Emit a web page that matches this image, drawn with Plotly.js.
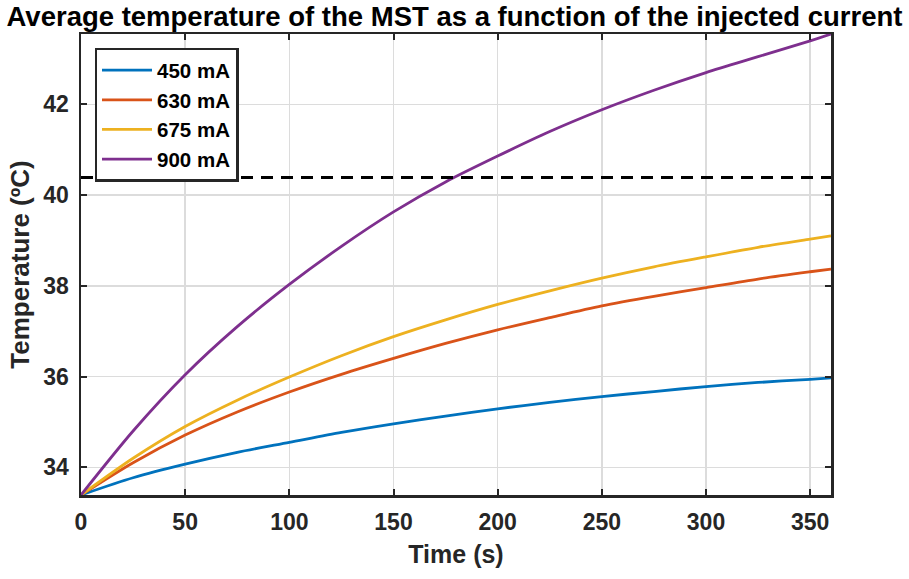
<!DOCTYPE html>
<html>
<head>
<meta charset="utf-8">
<script src="https://cdn.plot.ly/plotly-3.0.1.min.js"></script>
<style>html,body{margin:0;padding:0;background:#fff;}#chart{width:909px;height:579px;}</style>
</head>
<body>
<div id="chart"></div>
<script>
const time = [0, 25, 50, 75, 100, 125, 150, 175, 200, 225, 250, 275, 300, 325, 350, 360];
const seriesNames = ['450 mA', '630 mA', '675 mA', '900 mA'];
const temp450 = [33.39, 33.77, 34.07, 34.33, 34.55, 34.77, 34.96, 35.13, 35.29, 35.43, 35.56, 35.67, 35.78, 35.87, 35.94, 35.97];
const temp630 = [33.39, 34.10, 34.71, 35.22, 35.66, 36.05, 36.40, 36.73, 37.03, 37.30, 37.56, 37.77, 37.96, 38.15, 38.31, 38.37];
const temp675 = [33.39, 34.20, 34.90, 35.48, 35.99, 36.46, 36.88, 37.25, 37.59, 37.89, 38.17, 38.42, 38.64, 38.85, 39.03, 39.10];
const temp900 = [33.39, 34.80, 36.04, 37.10, 38.03, 38.87, 39.63, 40.29, 40.86, 41.40, 41.88, 42.31, 42.70, 43.05, 43.40, 43.55];
const thresholdX = [0, 360];
const thresholdY = [40.39, 40.39];
const xTicks = [0, 50, 100, 150, 200, 250, 300, 350];
const yTicks = [34, 36, 38, 40, 42];

const colors = ['#0072BD', '#D95319', '#EDB120', '#7E2F8E'];
const allSeries = [temp450, temp630, temp675, temp900];
const FONT = 'Liberation Sans, Arial, sans-serif';

const traces = allSeries.map((ys, i) => ({
  x: time, y: ys, name: seriesNames[i], type: 'scatter', mode: 'lines',
  line: {color: colors[i], width: 2.8, shape: 'spline', smoothing: 0.8}
}));
traces.push({
  x: thresholdX, y: thresholdY, type: 'scatter', mode: 'lines', showlegend: false,
  line: {color: '#000000', width: 3, dash: '12px,8px'}, hoverinfo: 'skip'
});

const axisCommon = {
  showline: true, linecolor: '#262626', linewidth: 2.5, mirror: 'ticks',
  ticks: 'inside', ticklen: 6, tickwidth: 2, tickcolor: '#262626',
  showgrid: true, gridcolor: '#dcdcdc', gridwidth: 1.5, zeroline: false,
  tickfont: {family: FONT, size: 23, color: '#262626', weight: 'bold'}
};

const layout = {
  width: 909, height: 579,
  margin: {l: 81, r: 78, t: 34, b: 84},
  paper_bgcolor: '#ffffff', plot_bgcolor: '#ffffff',
  title: {text: 'Average temperature of the MST as a function of the injected current',
    font: {family: FONT, size: 27.5, color: '#000000', weight: 'bold'},
    x: 0.5, xanchor: 'center', y: 0.988, yanchor: 'top', yref: 'container'},
  xaxis: Object.assign({}, axisCommon, {
    range: [0, 360], tickvals: xTicks, ticktext: xTicks.map(String), ticklabelstandoff: 5,
    title: {text: 'Time (s)', font: {family: FONT, size: 25, color: '#262626', weight: 'bold'}, standoff: 12}
  }),
  yaxis: Object.assign({}, axisCommon, {
    range: [33.39, 43.55], tickvals: yTicks, ticktext: yTicks.map(String), ticklabelstandoff: 5,
    title: {text: 'Temperature (ºC)', font: {family: FONT, size: 26, color: '#262626', weight: 'bold'}, standoff: 6}
  }),
  showlegend: true,
  legend: {
    x: 0.018, y: 0.97, xanchor: 'left', yanchor: 'top',
    bgcolor: '#ffffff', bordercolor: '#262626', borderwidth: 2.5,
    font: {family: FONT, size: 20.5, color: '#000000', weight: 'bold'},
    itemwidth: 50, tracegroupgap: 0
  }
};

Plotly.newPlot('chart', traces, layout, {displayModeBar: false, staticPlot: true});
</script>
</body>
</html>
